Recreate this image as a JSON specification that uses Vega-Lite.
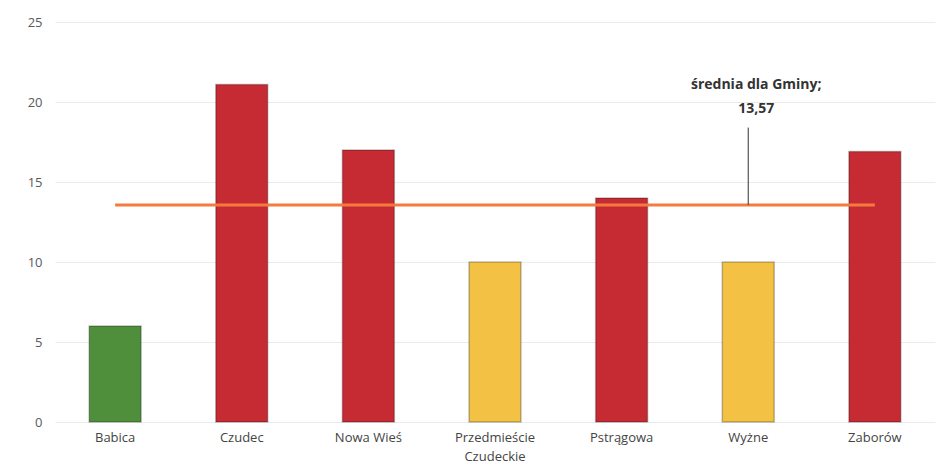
{
  "$schema": "https://vega.github.io/schema/vega-lite/v6.json",
  "width": 880,
  "height": 400,
  "autosize": "none",
  "padding": {"left": 55, "top": 22, "right": 8, "bottom": 44},
  "background": "white",
  "config": {"view": {"stroke": null}, "font": "Open Sans"},
  "datasets": {
    "solectwa": [
      {"solectwo": "Babica", "wartosc": 6.0, "poziom": "niski"},
      {"solectwo": "Czudec", "wartosc": 21.1, "poziom": "wysoki"},
      {"solectwo": "Nowa Wieś", "wartosc": 17.0, "poziom": "wysoki"},
      {"solectwo": "Przedmieście Czudeckie", "wartosc": 10.0, "poziom": "średni"},
      {"solectwo": "Pstrągowa", "wartosc": 14.0, "poziom": "wysoki"},
      {"solectwo": "Wyżne", "wartosc": 10.0, "poziom": "średni"},
      {"solectwo": "Zaborów", "wartosc": 16.9, "poziom": "wysoki"}
    ],
    "srednia": [
      {"od": "Babica", "do": "Zaborów", "wartosc": 13.57, "etykieta": "Wyżne", "y_tekst": 20.6, "y_linia": 18.4}
    ]
  },
  "layer": [
    {
      "data": {"name": "solectwa"},
      "mark": {"type": "bar", "stroke": "#00000040", "strokeWidth": 1.5},
      "encoding": {
        "x": {
          "field": "solectwo", "type": "nominal", "sort": null,
          "scale": {"paddingInner": 0.59, "paddingOuter": 0.27},
          "axis": {
            "title": null, "labelAngle": 0, "ticks": false, "domain": false,
            "labelPadding": 9, "labelFontSize": 13, "labelColor": "#444444",
            "labelExpr": "datum.label == 'Przedmieście Czudeckie' ? ['Przedmieście', 'Czudeckie'] : datum.label",
            "labelLineHeight": 19
          }
        },
        "y": {
          "field": "wartosc", "type": "quantitative",
          "scale": {"domain": [0, 25], "nice": false},
          "axis": {
            "title": null, "values": [0, 5, 10, 15, 20, 25], "ticks": false, "domain": false,
            "labelPadding": 13, "labelFontSize": 13, "labelColor": "#595959",
            "gridColor": "#ebebeb", "gridWidth": 1
          }
        },
        "color": {
          "field": "poziom", "type": "nominal", "legend": null,
          "scale": {"domain": ["niski", "średni", "wysoki"], "range": ["#4f8f3c", "#f3c244", "#c62a33"]}
        }
      }
    },
    {
      "data": {"name": "srednia"},
      "mark": {"type": "rule", "color": "#f47a3e", "strokeWidth": 3},
      "encoding": {
        "x": {"field": "od", "type": "nominal"},
        "x2": {"field": "do"},
        "y": {"field": "wartosc", "type": "quantitative"}
      }
    },
    {
      "data": {"name": "srednia"},
      "mark": {"type": "rule", "color": "#333333", "strokeWidth": 1},
      "encoding": {
        "x": {"field": "etykieta", "type": "nominal"},
        "y": {"field": "y_linia", "type": "quantitative"},
        "y2": {"field": "wartosc"}
      }
    },
    {
      "data": {"name": "srednia"},
      "mark": {"type": "text", "fontWeight": "bold", "fontSize": 14, "color": "#333333", "align": "center", "baseline": "bottom", "lineHeight": 24, "dx": 8},
      "encoding": {
        "x": {"field": "etykieta", "type": "nominal"},
        "y": {"field": "y_tekst", "type": "quantitative"},
        "text": {"value": ["średnia dla Gminy;", "13,57"]}
      }
    }
  ]
}
